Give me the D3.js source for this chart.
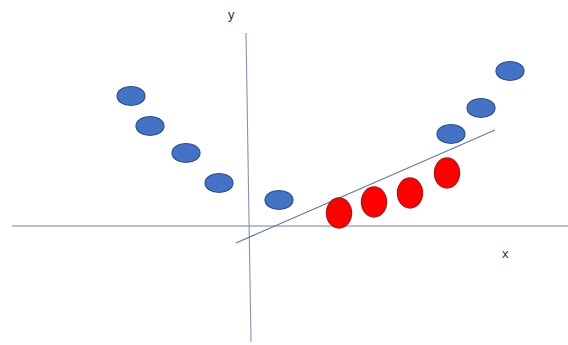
<!DOCTYPE html>
<html>
<head>
<meta charset="utf-8">
<script src="https://cdn.jsdelivr.net/npm/d3@7"></script>
<style>
  body { margin: 0; background: #fff; }
  svg { display: block; }
</style>
</head>
<body>
<svg id="drawing_region"></svg>
<script>
// points in plot units (origin where the two axes cross)
const blueX = [-11.8, -9.9, -6.3, -3.0, 3.0, 20.2, 23.2, 26.1];
const blueY = [13.0, 10.0, 7.3, 4.3, 2.6, 9.2, 11.8, 15.5];
const redX = [9.0, 12.5, 16.1, 19.8];
const redY = [1.3, 2.4, 3.3, 5.3];
const fitX = [-1.3, 24.6];
const fitY = [-1.7, 9.6];
const axisLabels = ["x", "y"];

const width = 568, height = 345;

const svg = d3.select('#drawing_region')
    .attr('width', width)
    .attr('height', height);

const xscale = d3.scaleLinear().domain([-24.9, 31.9]).range([0, width]);
const yscale = d3.scaleLinear().domain([-11.9, 22.6]).range([height, 0]);

// axes
svg.append('line')
    .attr('x1', xscale(-23.7)).attr('y1', yscale(0))
    .attr('x2', xscale(31.9)).attr('y2', yscale(0))
    .attr('stroke', '#6f819c')
    .attr('stroke-width', 1.2);

svg.append('line')
    .attr('x1', xscale(-0.3)).attr('y1', yscale(19.3))
    .attr('x2', xscale(0.2)).attr('y2', yscale(-11.6))
    .attr('stroke', '#8593ad')
    .attr('stroke-width', 1.1);

// fitted line
svg.append('line')
    .attr('x1', xscale(fitX[0])).attr('y1', yscale(fitY[0]))
    .attr('x2', xscale(fitX[1])).attr('y2', yscale(fitY[1]))
    .attr('stroke', '#6a7c98')
    .attr('stroke-width', 1.2);

const blue = blueX.map((x, i) => ({x: x, y: blueY[i]}));
const red = redX.map((x, i) => ({x: x, y: redY[i]}));

svg.append('g').selectAll('ellipse')
    .data(blue)
    .join('ellipse')
    .attr('cx', d => xscale(d.x))
    .attr('cy', d => yscale(d.y))
    .attr('rx', 14)
    .attr('ry', 9.5)
    .attr('fill', '#4472c4')
    .attr('stroke', '#2f528f')
    .attr('stroke-width', 1.2);

svg.append('g').selectAll('ellipse')
    .data(red)
    .join('ellipse')
    .attr('cx', d => xscale(d.x))
    .attr('cy', d => yscale(d.y))
    .attr('rx', 12.5)
    .attr('ry', 15)
    .attr('fill', '#ff0000')
    .attr('stroke', '#b01818')
    .attr('stroke-width', 1.5);

// axis names
svg.append('text')
    .attr('x', xscale(25.3))
    .attr('y', yscale(-3.2))
    .attr('font-family', 'Liberation Sans, Arial, sans-serif')
    .attr('font-size', '13px')
    .attr('fill', '#333')
    .text(axisLabels[0]);

svg.append('text')
    .attr('x', xscale(-2.1))
    .attr('y', yscale(20.7))
    .attr('font-family', 'Liberation Sans, Arial, sans-serif')
    .attr('font-size', '13px')
    .attr('fill', '#333')
    .text(axisLabels[1]);
</script>
</body>
</html>
